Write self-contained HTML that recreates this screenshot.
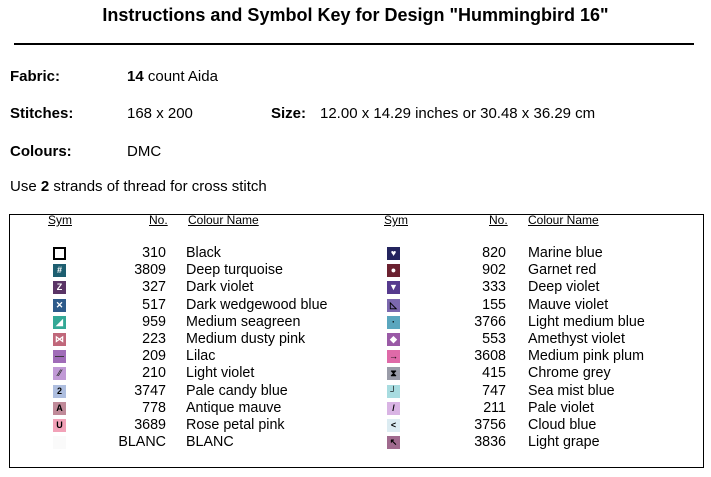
<!DOCTYPE html>
<html><head><meta charset="utf-8"><style>
body{margin:0;width:711px;height:477px;background:#fff;font-family:"Liberation Sans",Arial,sans-serif;color:#000;position:relative;overflow:hidden}
.a{position:absolute;white-space:nowrap}
.t{font-size:15px}
.s{position:absolute;width:13px;height:13px;color:#fff;font-size:9px;font-weight:bold;text-align:center;line-height:13px}
.n{position:absolute;font-size:14.3px;text-align:right;width:60px}
.m{position:absolute;font-size:14.3px;white-space:nowrap}
.h{position:absolute;font-size:12px;text-decoration:underline}
</style></head><body>
<div class="a" style="left:0;width:711px;text-align:center;top:5px;font-size:18px;font-weight:bold">Instructions and Symbol Key for Design "Hummingbird 16"</div>
<div class="a" style="left:14px;top:43px;width:680px;height:2px;background:#000"></div>
<div class="a t" style="left:10px;top:68px;font-weight:bold">Fabric:</div>
<div class="a t" style="left:127px;top:68px"><b>14</b> count Aida</div>
<div class="a t" style="left:10px;top:105px;font-weight:bold">Stitches:</div>
<div class="a t" style="left:127px;top:105px">168 x 200</div>
<div class="a t" style="left:271px;top:105px;font-weight:bold">Size:</div>
<div class="a t" style="left:320px;top:105px">12.00 x 14.29 inches or 30.48 x 36.29 cm</div>
<div class="a t" style="left:10px;top:143px;font-weight:bold">Colours:</div>
<div class="a t" style="left:127px;top:143px">DMC</div>
<div class="a t" style="left:10px;top:178px">Use <b>2</b> strands of thread for cross stitch</div>
<div class="a" style="left:9px;top:214px;width:693px;height:252px;border:1px solid #000"></div>
<div class="h" style="left:48px;top:213px">Sym</div>
<div class="h" style="left:149px;top:213px">No.</div>
<div class="h" style="left:188px;top:213px">Colour Name</div>
<div class="h" style="left:384px;top:213px">Sym</div>
<div class="h" style="left:489px;top:213px">No.</div>
<div class="h" style="left:528px;top:213px">Colour Name</div>
<div id="rows"></div>
<script>
var L=[["#fff","","310","Black","#000"],["#1d5e70","#","3809","Deep turquoise"],["#5a3466","Z","327","Dark violet"],["#2d5a8a","✕","517","Dark wedgewood blue"],["#33a896","◢","959","Medium seagreen"],["#c0677a","⋈","223","Medium dusty pink"],["#a06cb8","—","209","Lilac","#333"],["#c19ad6","⁄⁄","210","Light violet","#333"],["#aebedf","2","3747","Pale candy blue","#000"],["#c08a99","A","778","Antique mauve","#000"],["#f2a2b8","U","3689","Rose petal pink","#000"],["#fafafa","","BLANC","BLANC"]];
var R=[["#23245e","♥","820","Marine blue"],["#6b2130","●","902","Garnet red"],["#563a8e","▼","333","Deep violet"],["#7c68ae","◺","155","Mauve violet","#000"],["#5aa6be","·","3766","Light medium blue","#000"],["#9a5aa6","◆","553","Amethyst violet"],["#df6aa8","→","3608","Medium pink plum","#000"],["#9a9ca8","⧗","415","Chrome grey","#000"],["#a8dce0","┘","747","Sea mist blue","#000"],["#d9b4e4","/","211","Pale violet","#000"],["#dcecf2","<","3756","Cloud blue","#000"],["#a06a8e","↖","3836","Light grape","#000"]];
var h="";
function add(a,sx,nx,mx){a.forEach(function(r,i){var y=246+i*17.2;
var st=r[0]=="#fff"?"border:2px solid #000;width:9px;height:9px;line-height:9px;":"";
h+='<div class="s" style="left:'+sx+'px;top:'+(y+1)+'px;background:'+r[0]+';color:'+(r[4]||"#fff")+';'+st+'">'+r[1]+'</div>';
h+='<div class="n" style="left:'+(nx-60)+'px;top:'+(y-1)+'px">'+r[2]+'</div>';
h+='<div class="m" style="left:'+mx+'px;top:'+(y-1)+'px">'+r[3]+'</div>';});}
add(L,53,166,186);add(R,387,506,528);
document.getElementById("rows").innerHTML=h;
</script>
</body></html>
